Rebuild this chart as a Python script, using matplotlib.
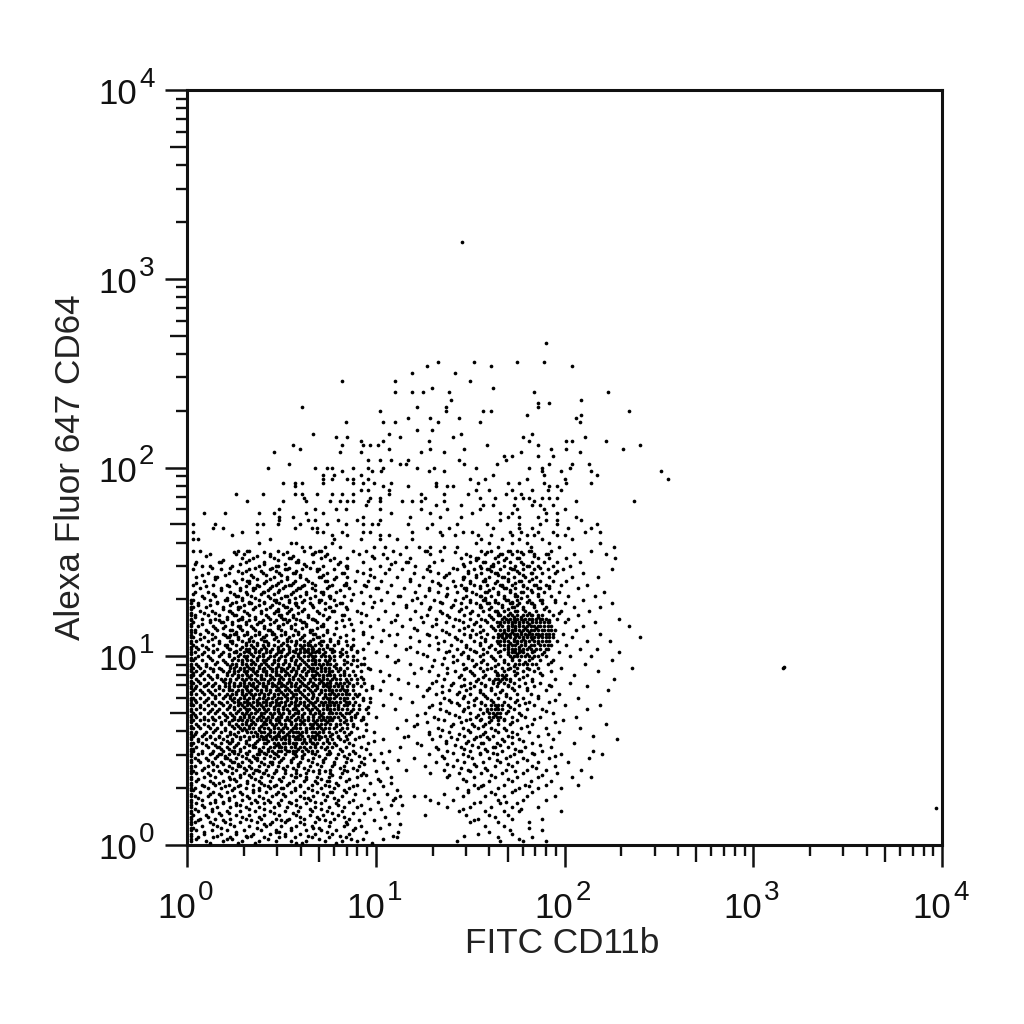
import matplotlib
matplotlib.use('Agg')
from matplotlib import pyplot as plt
from matplotlib.ticker import LogLocator, FixedLocator, NullFormatter

# dots, in hundredths of a decade: (log10 y * 100, [log10 x * 100, ...])
upper_rows = [
    (266, [190]), (256, [175, 189, 152, 133]), (254, [204, 127, 161]), (250, [142, 119]),
    (246, [82, 110, 150]), (242, [130, 162]), (240, [110, 119, 125, 139, 184, 223]),
    (236, [140, 209]), (234, [192, 186]), (232, [61, 122, 186, 137]),
    (230, [157, 161, 234, 102, 137]), (228, [180, 209]), (226, [117, 129, 144, 206]),
    (224, [84, 104, 110, 133, 155, 208]), (220, [130, 122]), (218, [67, 107, 145, 183]),
    (216, [79, 85, 113, 141, 178, 211]), (214, [92, 104, 128, 181, 201, 204, 222]),
    (212, [56, 82, 93, 97, 101, 159, 186, 240]), (210, [60, 107, 129, 147, 193, 201, 231]),
    (208, [46, 81, 92, 124, 136, 177, 208]), (206, [186, 194, 172, 168]),
    (204, [96, 102, 108, 117, 144, 169]), (202, [54, 113, 116, 147, 164, 204, 213, 192]),
    (200, [43, 68, 74, 77, 88, 96, 104, 122, 131, 153, 181, 188, 203]),
    (198, [82, 98, 103, 128, 136, 188, 198, 214, 251]), (196, [72, 78, 92, 162, 189, 217]),
    (194, [72, 77, 85, 88, 96, 150, 158, 180, 200, 255]),
    (192, [51, 57, 61, 72, 88, 93, 99, 108, 132, 154, 170, 176, 189, 201, 214]),
    (190, [57, 104, 117, 132, 138, 141, 192, 196]),
    (188, [92, 96, 107, 153, 160, 172, 183, 191, 198]),
    (186, [26, 40, 57, 61, 69, 77, 82, 88, 107, 124, 136, 149, 169, 177]),
    (184, [62, 97, 102, 126, 155, 163, 174, 178, 181, 188, 192, 196]),
    (182, [32, 51, 63, 76, 81, 85, 88, 96, 102, 114, 119, 124, 136, 184, 206, 237]),
    (180, [95, 132, 145, 157, 162, 173, 183, 187, 194]),
    (178, [49, 68, 79, 84, 102, 124, 138, 155, 175, 189, 200]),
    (176, [9, 20, 38, 46, 63, 72, 108, 129, 151, 166, 172, 190, 196]),
    (174, [49, 56, 93, 118, 134, 145, 170, 176, 186, 206]),
    (172, [49, 64, 68, 80, 90, 102, 166, 190, 196, 209]),
    (170, [3, 15, 37, 40, 48, 60, 74, 84, 93, 98, 101, 117, 130, 143, 159, 176, 187, 196, 217]),
    (168, [14, 19, 57, 66, 69, 127, 139, 162, 176, 183, 202, 214]),
    (166, [3, 29, 37, 69, 72, 82, 93, 97, 119, 134, 146, 151, 171, 177, 186, 194, 211, 219]),
    (164, [24, 77, 85, 102, 107, 135, 142, 154, 161, 172, 180, 184, 196, 200]),
    (162, [3, 6, 44, 78, 92, 102, 111, 119, 156, 167, 176, 188, 204]),
    (160, [38, 55, 58, 77, 153, 160, 172, 180, 192, 219]),
    (158, [61, 65, 73, 81, 99, 105, 116, 123, 129, 136, 143, 165, 182, 197, 226]),
]

middle_rows = [
    (156, [3, 7, 27, 32, 33, 48, 62, 70, 71, 88, 95, 109, 126, 127, 134, 156, 161, 170, 171, 175, 181, 182, 193, 214]),
    (154, [12, 26, 30, 44, 51, 66, 67, 74, 91, 104, 113, 129, 148, 158, 166, 167, 172, 178, 184, 190, 191, 205, 222]),
    (152, [29, 35, 46, 54, 55, 71, 78, 85, 99, 106, 118, 145, 153, 154, 163, 169, 175, 176, 186, 192, 201, 227]),
    (150, [5, 17, 18, 31, 41, 58, 59, 67, 81, 93, 110, 116, 117, 131, 150, 157, 158, 165, 171, 177, 183, 189, 196, 208]),
    (148, [8, 12, 24, 38, 47, 48, 63, 72, 84, 85, 102, 121, 128, 147, 155, 161, 162, 168, 174, 180, 181, 186, 194, 203]),
    (146, [3, 18, 33, 44, 52, 53, 61, 69, 70, 78, 97, 107, 114, 127, 143, 152, 159, 160, 166, 172, 173, 178, 184, 191, 199, 225]),
    (144, [11, 22, 29, 40, 49, 56, 57, 74, 82, 83, 93, 105, 120, 133, 139, 149, 156, 163, 164, 170, 176, 182, 183, 188, 195, 210]),
    (142, [5, 15, 16, 35, 46, 53, 60, 70, 71, 79, 85, 99, 111, 125, 136, 146, 147, 153, 160, 167, 168, 173, 179, 185, 192, 204, 218]),
    (140, [9, 25, 32, 33, 42, 50, 57, 64, 73, 74, 89, 96, 103, 118, 130, 141, 150, 157, 158, 164, 170, 176, 177, 181, 187, 194, 201]),
    (138, [3, 14, 21, 37, 47, 54, 55, 62, 68, 77, 83, 84, 94, 108, 123, 134, 145, 152, 159, 166, 167, 172, 178, 184, 185, 190, 198, 212]),
    (136, [7, 18, 28, 35, 36, 44, 51, 59, 60, 66, 74, 86, 100, 101, 115, 128, 138, 147, 148, 155, 162, 168, 169, 174, 180, 186, 187, 192, 207]),
    (134, [4, 11, 23, 31, 40, 41, 48, 56, 63, 71, 72, 79, 92, 106, 121, 133, 143, 151, 158, 159, 165, 171, 177, 178, 183, 189, 197, 221]),
    (132, [8, 15, 26, 27, 34, 43, 52, 53, 60, 68, 75, 76, 83, 97, 112, 113, 126, 137, 148, 155, 156, 161, 168, 174, 175, 180, 186, 193, 202, 216]),
    (130, [3, 12, 20, 21, 29, 38, 46, 47, 54, 62, 70, 71, 78, 87, 103, 119, 131, 142, 150, 157, 158, 163, 169, 170, 175, 181, 187, 188, 195, 210]),
    (128, [6, 16, 24, 33, 34, 41, 49, 57, 58, 65, 73, 81, 82, 93, 109, 124, 135, 145, 153, 159, 160, 165, 171, 172, 176, 182, 183, 188, 200, 225]),
    (126, [3, 10, 19, 27, 28, 36, 44, 52, 53, 59, 67, 75, 76, 84, 98, 116, 129, 140, 148, 155, 156, 161, 167, 172, 173, 178, 184, 190, 205, 219]),
    (124, [7, 13, 22, 23, 30, 39, 47, 48, 54, 61, 69, 77, 78, 90, 105, 121, 134, 144, 151, 157, 163, 164, 168, 174, 175, 179, 185, 192, 198, 213]),
    (122, [4, 11, 17, 25, 26, 33, 42, 49, 50, 56, 64, 72, 82, 83, 95, 111, 127, 138, 147, 154, 160, 165, 166, 170, 172, 175, 178, 180, 183, 186, 194, 207]),
    (120, [8, 15, 21, 28, 29, 36, 44, 51, 52, 58, 66, 67, 74, 86, 101, 118, 132, 142, 150, 156, 162, 167, 169, 171, 173, 175, 177, 179, 181, 183, 188, 196, 202, 229]),
    (118, [3, 12, 18, 19, 24, 31, 38, 39, 46, 53, 61, 62, 69, 79, 92, 108, 125, 137, 146, 153, 159, 164, 166, 168, 170, 172, 174, 176, 178, 180, 183, 185, 191, 200, 216]),
    (116, [6, 14, 20, 27, 28, 34, 41, 48, 49, 55, 63, 71, 72, 83, 97, 114, 130, 141, 149, 155, 161, 165, 167, 170, 172, 174, 176, 178, 180, 182, 184, 187, 193, 210, 234]),
    (114, [4, 10, 16, 23, 24, 29, 36, 43, 44, 50, 57, 65, 66, 74, 88, 104, 122, 135, 144, 151, 157, 163, 166, 168, 170, 172, 174, 176, 178, 180, 182, 184, 189, 195, 206]),
    (112, [7, 13, 19, 25, 26, 32, 38, 45, 46, 52, 59, 67, 68, 78, 93, 111, 127, 139, 147, 153, 159, 165, 167, 169, 171, 173, 175, 177, 179, 181, 183, 186, 192, 199, 219]),
    (110, [3, 9, 15, 21, 22, 27, 34, 40, 41, 47, 54, 61, 69, 70, 81, 98, 118, 132, 142, 150, 156, 162, 165, 167, 169, 171, 174, 176, 178, 180, 182, 184, 188, 194, 204, 240]),
    (108, [5, 11, 17, 23, 24, 29, 33, 35, 41, 42, 48, 53, 55, 62, 71, 72, 84, 103, 123, 136, 145, 152, 158, 164, 166, 168, 170, 173, 175, 177, 179, 181, 184, 190, 196, 212, 224]),
    (106, [3, 8, 14, 20, 21, 26, 31, 34, 37, 40, 43, 46, 50, 53, 57, 64, 65, 74, 88, 110, 128, 140, 148, 155, 161, 166, 168, 170, 172, 174, 177, 179, 182, 187, 193, 201]),
    (104, [6, 11, 16, 22, 23, 28, 31, 33, 36, 39, 42, 45, 48, 51, 54, 58, 66, 67, 77, 93, 116, 133, 143, 150, 157, 163, 168, 170, 172, 174, 176, 180, 185, 191, 208, 217]),
    (102, [4, 9, 14, 19, 25, 26, 30, 33, 36, 38, 42, 44, 48, 50, 54, 57, 60, 68, 81, 100, 122, 137, 146, 153, 159, 165, 170, 172, 174, 176, 178, 183, 189, 197, 229]),
    (100, [6, 11, 17, 22, 27, 30, 32, 35, 38, 40, 44, 46, 50, 52, 56, 59, 62, 71, 85, 106, 127, 141, 149, 155, 161, 166, 171, 173, 175, 179, 184, 190, 203, 214]),
    (98, [3, 8, 13, 19, 24, 27, 29, 32, 34, 37, 40, 42, 46, 48, 52, 55, 58, 61, 64, 73, 88, 112, 131, 143, 151, 157, 163, 168, 172, 176, 181, 187, 194, 225]),
    (96, [5, 10, 15, 21, 24, 26, 29, 31, 34, 36, 39, 42, 45, 48, 51, 54, 57, 60, 63, 66, 76, 92, 118, 135, 146, 153, 159, 165, 170, 174, 178, 183, 191, 211]),
    (94, [3, 7, 12, 17, 23, 25, 28, 30, 33, 35, 38, 41, 44, 47, 50, 53, 56, 59, 62, 65, 69, 79, 96, 124, 138, 148, 155, 161, 167, 171, 175, 180, 186, 198, 236, 316]),
    (92, [5, 9, 14, 19, 22, 25, 27, 30, 32, 35, 37, 40, 42, 45, 47, 50, 52, 55, 58, 61, 64, 71, 83, 102, 128, 142, 150, 157, 163, 168, 173, 178, 184, 193, 218]),
    (90, [3, 7, 11, 16, 21, 24, 27, 29, 32, 34, 37, 39, 42, 44, 47, 49, 52, 54, 57, 60, 63, 66, 74, 86, 107, 133, 145, 152, 158, 164, 165, 167, 169, 174, 180, 188, 205]),
    (88, [5, 9, 13, 18, 20, 23, 26, 29, 31, 34, 36, 39, 41, 44, 46, 49, 51, 54, 56, 59, 62, 65, 68, 77, 90, 112, 136, 147, 154, 160, 163, 165, 167, 169, 171, 176, 183, 195, 226]),
    (86, [3, 7, 11, 15, 20, 22, 25, 28, 30, 33, 35, 38, 40, 43, 45, 48, 50, 53, 55, 58, 61, 64, 67, 70, 79, 94, 117, 130, 141, 150, 156, 162, 165, 168, 173, 179, 187, 203]),
    (84, [5, 9, 13, 17, 20, 22, 25, 27, 30, 32, 35, 37, 40, 42, 45, 47, 50, 52, 55, 57, 60, 63, 66, 69, 72, 82, 98, 122, 135, 145, 152, 158, 164, 170, 176, 184, 193, 212]),
    (82, [3, 7, 11, 15, 19, 22, 24, 27, 29, 32, 34, 37, 39, 42, 44, 47, 49, 52, 54, 57, 59, 62, 65, 68, 71, 75, 85, 102, 127, 139, 148, 155, 161, 167, 173, 180, 190, 223]),
    (80, [5, 9, 13, 17, 21, 24, 26, 29, 31, 34, 36, 38, 41, 43, 46, 48, 51, 53, 56, 58, 61, 64, 67, 70, 73, 78, 89, 108, 132, 143, 150, 157, 163, 169, 175, 182, 197]),
    (78, [3, 7, 11, 15, 19, 23, 25, 28, 30, 33, 35, 38, 40, 43, 45, 48, 50, 53, 55, 58, 60, 63, 66, 69, 72, 81, 93, 113, 136, 146, 153, 159, 165, 171, 178, 186, 207]),
    (76, [5, 9, 13, 17, 21, 25, 27, 30, 32, 35, 37, 40, 42, 45, 47, 50, 52, 55, 57, 60, 62, 65, 68, 71, 75, 84, 97, 119, 140, 149, 156, 162, 168, 174, 181, 192]),
    (74, [3, 7, 11, 15, 19, 23, 27, 29, 32, 34, 37, 39, 42, 44, 47, 49, 52, 54, 57, 59, 62, 64, 67, 70, 78, 88, 104, 130, 144, 152, 158, 161, 163, 165, 167, 170, 176, 184, 200, 219]),
    (72, [5, 9, 13, 17, 21, 25, 28, 31, 33, 36, 38, 41, 43, 46, 48, 51, 53, 56, 58, 61, 64, 66, 69, 72, 80, 91, 110, 134, 147, 155, 159, 161, 163, 165, 167, 173, 180, 188, 212]),
]

lower_rows = [
    (70, [3, 7, 11, 15, 19, 23, 26, 29, 31, 34, 36, 39, 41, 44, 46, 49, 51, 54, 57, 59, 62, 65, 68, 75, 84, 96, 126, 139, 150, 157, 160, 162, 164, 166, 169, 176, 194]),
    (68, [5, 9, 13, 17, 21, 25, 28, 30, 33, 35, 38, 40, 43, 45, 48, 50, 53, 55, 59, 61, 64, 67, 70, 78, 87, 100, 131, 144, 153, 160, 162, 164, 166, 172, 179, 187, 206]),
    (66, [3, 7, 11, 15, 20, 24, 27, 29, 32, 34, 37, 39, 42, 44, 47, 49, 52, 54, 57, 60, 62, 67, 73, 81, 92, 116, 136, 148, 155, 161, 165, 168, 175, 199]),
    (64, [5, 9, 14, 18, 22, 26, 29, 31, 34, 36, 40, 42, 45, 47, 50, 52, 55, 58, 60, 65, 71, 76, 85, 95, 122, 141, 151, 158, 165, 171, 183, 222]),
    (62, [3, 7, 12, 16, 20, 25, 28, 30, 33, 35, 38, 41, 43, 46, 48, 51, 53, 56, 58, 63, 69, 75, 82, 90, 111, 133, 146, 154, 161, 168, 177, 190, 208]),
    (60, [5, 10, 14, 18, 23, 27, 32, 34, 36, 39, 41, 44, 46, 49, 51, 54, 56, 61, 66, 72, 79, 87, 99, 128, 139, 150, 158, 165, 172, 181, 197]),
    (58, [3, 8, 12, 17, 21, 26, 30, 35, 37, 39, 42, 44, 47, 49, 52, 54, 59, 64, 70, 76, 84, 93, 117, 134, 147, 155, 162, 170, 186, 215]),
    (56, [6, 10, 15, 19, 24, 28, 33, 38, 40, 42, 45, 47, 50, 52, 57, 62, 68, 74, 81, 89, 104, 130, 143, 152, 160, 167, 176, 194, 228]),
    (54, [3, 8, 13, 18, 22, 23, 27, 31, 36, 41, 42, 46, 51, 52, 56, 61, 66, 67, 72, 78, 86, 96, 122, 137, 148, 156, 157, 164, 172, 183, 205]),
    (52, [5, 11, 16, 17, 21, 25, 30, 35, 36, 40, 44, 49, 50, 55, 60, 65, 71, 77, 84, 92, 113, 132, 145, 154, 162, 163, 170, 179, 193]),
    (50, [3, 8, 14, 19, 24, 25, 28, 33, 38, 39, 43, 48, 53, 54, 58, 64, 69, 75, 82, 88, 107, 138, 150, 159, 167, 176, 177, 188, 215]),
    (48, [6, 12, 17, 18, 22, 27, 32, 37, 38, 42, 47, 52, 57, 62, 68, 74, 75, 80, 86, 97, 128, 146, 155, 164, 173, 184, 198, 220]),
    (46, [4, 10, 15, 20, 21, 26, 31, 36, 37, 41, 46, 51, 56, 61, 67, 73, 79, 85, 94, 120, 136, 151, 160, 169, 178, 192, 213]),
    (44, [7, 13, 18, 24, 25, 29, 34, 39, 44, 45, 49, 55, 60, 66, 72, 78, 84, 92, 104, 132, 147, 157, 166, 175, 186, 202]),
    (42, [4, 11, 16, 22, 27, 28, 33, 38, 43, 48, 53, 59, 65, 71, 77, 83, 91, 126, 141, 153, 163, 172, 183, 195]),
    (40, [8, 14, 20, 26, 31, 36, 37, 42, 47, 52, 58, 64, 70, 76, 83, 90, 116, 136, 149, 159, 169, 180, 190, 209]),
    (38, [5, 11, 18, 24, 30, 35, 40, 41, 46, 52, 58, 63, 70, 76, 82, 93, 129, 144, 156, 167, 178, 196]),
    (36, [9, 15, 22, 28, 34, 39, 45, 51, 57, 58, 63, 69, 75, 81, 90, 108, 138, 152, 163, 175, 186, 204, 214]),
    (34, [5, 12, 19, 26, 32, 38, 44, 50, 56, 62, 68, 74, 75, 84, 102, 148, 160, 172, 182, 193]),
    (32, [8, 15, 22, 28, 35, 41, 47, 53, 60, 66, 73, 80, 90, 152, 157, 168, 179, 190, 207]),
    (30, [4, 11, 18, 25, 31, 38, 44, 50, 51, 57, 64, 71, 78, 86, 143, 154, 165, 176, 186, 198]),
    (28, [7, 14, 21, 28, 35, 42, 48, 55, 62, 69, 76, 77, 84, 149, 161, 172, 183]),
    (26, [4, 11, 18, 25, 32, 38, 45, 52, 60, 67, 74, 82, 113, 120, 126, 146, 158, 168, 180, 195]),
    (24, [8, 15, 22, 29, 36, 43, 50, 58, 65, 73, 80, 88, 109, 129, 141, 165, 178, 190]),
    (22, [5, 12, 19, 26, 34, 41, 48, 55, 63, 71, 79, 133, 152, 166, 175]),
    (20, [9, 16, 23, 31, 38, 46, 53, 60, 68, 75, 83, 90, 138, 150, 161, 172, 186]),
    (18, [6, 13, 21, 28, 36, 44, 52, 59, 66, 74, 82, 144, 158, 168, 176, 198]),
    (16, [3, 10, 18, 26, 33, 41, 49, 58, 65, 72, 80, 126, 148, 160, 170]),
    (14, [7, 15, 23, 31, 39, 47, 54, 62, 70, 78, 86, 154, 172, 188]),
    (12, [4, 12, 20, 28, 37, 45, 52, 60, 68, 76, 84, 150, 165, 181]),
    (10, [8, 16, 25, 33, 42, 50, 58, 66, 75, 83, 92, 158, 168]),
    (8, [5, 13, 21, 30, 39, 47, 55, 63, 71, 79, 88, 171, 188]),
    (6, [9, 18, 26, 35, 44, 52, 60, 68, 77, 86, 154, 172]),
    (4, [6, 14, 23, 32, 41, 49, 57, 66, 75, 84, 111, 165, 183]),
    (2, [10, 19, 29, 38, 47, 55, 63, 73, 82, 90, 143, 166, 178, 190]),
]

# dots between the rows above, where the cloud is thickest
fill_rows = [
    (1, [12, 27, 36, 58, 61, 79, 98]), (3, [5, 21, 24, 43, 70, 87, 93, 104, 176]),
    (5, [16, 31, 34, 52, 64, 81, 109, 147]), (7, [9, 26, 47, 49, 74, 95, 112, 160]),
    (9, [3, 18, 37, 55, 67, 70, 89, 102, 181]), (11, [14, 23, 41, 44, 62, 85, 107, 113]),
    (13, [6, 19, 34, 50, 53, 73, 91, 99, 152]), (15, [11, 29, 38, 60, 69, 83, 105, 163]),
    (17, [17, 22, 46, 56, 77, 88, 94, 112]), (19, [4, 13, 33, 41, 65, 71, 97, 103, 146, 177]),
    (21, [8, 26, 28, 49, 58, 80, 92, 108, 114]), (23, [15, 19, 37, 44, 54, 68, 86, 101, 155, 169]),
    (25, [6, 22, 33, 40, 62, 64, 78, 96, 110]), (27, [12, 17, 29, 47, 51, 72, 89, 99, 106, 136, 163]),
    (29, [3, 24, 35, 38, 57, 66, 83, 94, 111, 149, 174]), (31, [9, 20, 27, 43, 46, 60, 75, 88, 104, 156, 181]),
    (33, [14, 17, 32, 39, 54, 69, 79, 97, 108]), (35, [6, 23, 25, 36, 49, 63, 71, 86, 101, 146, 170]),
    (37, [12, 28, 33, 43, 55, 60, 77, 92, 95, 139, 161, 188]), (39, [3, 17, 21, 38, 47, 67, 73, 85, 100, 150, 174]),
    (41, [9, 24, 30, 34, 51, 56, 62, 81, 88, 106, 145, 158, 185]), (43, [14, 19, 27, 41, 45, 59, 69, 78, 94, 138, 152, 170]),
    (45, [6, 11, 23, 33, 37, 50, 55, 64, 72, 87, 99, 112, 143, 164, 180]),
    (47, [16, 20, 29, 35, 44, 48, 58, 61, 70, 83, 91, 135, 149, 171, 195]),
    (49, [8, 13, 25, 31, 41, 46, 56, 66, 76, 89, 103, 141, 155, 162, 183]),
    (51, [3, 18, 22, 28, 38, 43, 52, 59, 63, 73, 81, 95, 133, 147, 158, 174]),
    (53, [10, 15, 26, 33, 35, 47, 49, 57, 68, 79, 88, 124, 142, 151, 166, 187]),
    (55, [6, 21, 24, 31, 37, 43, 54, 62, 65, 74, 83, 99, 137, 149, 168, 178]),
    (57, [12, 17, 28, 33, 40, 46, 51, 58, 67, 71, 80, 91, 115, 140, 153, 159, 172]),
    (59, [4, 9, 23, 25, 37, 43, 48, 53, 60, 69, 77, 86, 128, 144, 157, 175, 191]),
    (61, [15, 20, 29, 31, 38, 44, 50, 55, 63, 72, 81, 95, 135, 149, 163, 169]),
    (63, [6, 11, 24, 27, 33, 39, 46, 52, 57, 66, 70, 79, 88, 120, 140, 152, 157, 180]),
    (65, [18, 22, 31, 35, 41, 44, 49, 55, 61, 68, 74, 83, 127, 145, 160, 172, 195]),
    (67, [9, 14, 25, 28, 37, 42, 47, 53, 58, 64, 72, 77, 93, 133, 150, 156, 168, 184]),
    (69, [4, 20, 24, 30, 33, 39, 45, 50, 56, 61, 67, 71, 82, 89, 122, 142, 154, 163, 177]),
    (71, [12, 16, 27, 32, 37, 42, 48, 54, 59, 65, 70, 76, 87, 137, 146, 159, 170, 190]),
    (73, [7, 22, 25, 30, 35, 40, 46, 51, 57, 63, 68, 74, 80, 96, 128, 149, 164, 171]),
    (75, [13, 18, 28, 33, 38, 44, 49, 55, 60, 66, 72, 78, 86, 134, 143, 156, 179]),
    (77, [4, 10, 24, 27, 32, 37, 42, 47, 53, 58, 64, 69, 75, 83, 93, 139, 152, 161, 175, 195]),
    (79, [15, 20, 23, 30, 35, 41, 46, 52, 56, 62, 67, 73, 79, 90, 125, 147, 158, 169, 186]),
    (81, [8, 12, 26, 29, 33, 39, 44, 50, 55, 60, 66, 71, 77, 84, 135, 144, 155, 166]),
    (83, [4, 17, 22, 31, 36, 42, 48, 53, 59, 64, 69, 75, 82, 98, 128, 150, 161, 172, 180]),
    (85, [10, 14, 25, 28, 34, 40, 46, 51, 57, 62, 68, 73, 80, 88, 140, 147, 158, 170, 192]),
    (87, [6, 19, 23, 30, 37, 43, 49, 54, 60, 65, 71, 76, 85, 104, 132, 153, 162, 166, 171, 183]),
    (89, [12, 16, 27, 33, 39, 45, 50, 56, 61, 67, 72, 78, 92, 144, 157, 168, 178]),
    (91, [3, 8, 21, 25, 31, 36, 42, 47, 53, 58, 63, 69, 75, 83, 120, 138, 151, 164, 175, 187]),
    (93, [14, 18, 28, 34, 40, 45, 51, 56, 62, 66, 73, 81, 97, 147, 159, 170, 181]),
    (95, [6, 10, 23, 26, 32, 38, 43, 48, 54, 59, 64, 71, 78, 90, 130, 152, 163, 173]),
    (97, [16, 20, 29, 35, 41, 46, 52, 57, 62, 68, 74, 85, 110, 141, 156, 168, 179, 193]),
    (99, [4, 12, 25, 31, 37, 43, 49, 55, 60, 67, 76, 94, 136, 149, 162, 172, 183]),
    (101, [8, 18, 22, 28, 34, 40, 47, 53, 59, 65, 72, 82, 125, 145, 157, 170, 175, 180, 188]),
    (103, [14, 26, 32, 38, 44, 50, 56, 63, 69, 78, 90, 139, 152, 166, 173, 177, 184]),
    (105, [5, 10, 21, 29, 35, 41, 48, 54, 61, 66, 74, 87, 118, 148, 160, 170, 176, 181]),
    (107, [17, 24, 31, 37, 43, 51, 58, 64, 70, 80, 96, 133, 155, 165, 171, 175, 179, 186]),
    (109, [7, 13, 27, 33, 39, 46, 53, 60, 67, 76, 88, 143, 158, 168, 173, 178, 183]),
    (111, [20, 23, 30, 36, 42, 50, 56, 62, 72, 84, 107, 128, 150, 166, 170, 175, 180, 187]),
    (113, [4, 11, 26, 32, 38, 45, 52, 59, 65, 74, 93, 137, 155, 168, 172, 177, 181]),
    (115, [15, 19, 28, 35, 41, 48, 55, 61, 69, 79, 120, 147, 162, 170, 174, 179, 185]),
    (117, [8, 24, 31, 37, 44, 51, 57, 63, 72, 87, 132, 152, 166, 172, 176, 181]),
    (119, [12, 17, 27, 33, 40, 47, 54, 60, 68, 82, 110, 144, 158, 170, 174, 178, 183, 192]),
    (121, [4, 21, 29, 36, 43, 50, 56, 64, 75, 124, 139, 161, 168, 173, 177, 186]),
    (123, [9, 15, 24, 32, 39, 46, 53, 59, 70, 92, 135, 150, 165, 171, 181, 197]),
    (125, [19, 27, 35, 42, 48, 55, 62, 73, 85, 128, 145, 160, 170, 178, 189]),
    (127, [6, 12, 23, 30, 38, 45, 51, 58, 66, 79, 116, 141, 155, 167, 175, 184]),
    (129, [16, 26, 33, 41, 47, 54, 61, 70, 99, 134, 150, 163, 172, 180, 195]),
    (131, [9, 21, 29, 36, 44, 50, 57, 65, 76, 122, 146, 158, 168, 177]),
    (133, [3, 14, 25, 32, 39, 46, 55, 63, 72, 88, 138, 153, 165, 174, 186]),
    (135, [18, 28, 35, 43, 49, 58, 68, 81, 128, 148, 160, 171, 182]),
    (137, [10, 22, 31, 38, 45, 52, 61, 75, 95, 142, 155, 167, 178, 192]),
    (139, [5, 26, 33, 41, 48, 56, 66, 84, 133, 150, 163, 174]),
    (141, [15, 29, 37, 44, 53, 63, 78, 118, 146, 158, 170, 183]),
    (143, [8, 20, 34, 42, 50, 60, 72, 97, 137, 153, 165, 178]),
    (145, [27, 31, 39, 47, 58, 69, 90, 129, 149, 161, 175, 196]),
    (147, [13, 23, 36, 45, 54, 65, 85, 141, 156, 171, 187]),
    (149, [4, 28, 41, 52, 62, 80, 108, 146, 162, 178]),
    (151, [19, 33, 48, 59, 76, 135, 153, 168]),
    (153, [10, 37, 44, 56, 73, 98, 150, 165, 184]),
    (155, [25, 41, 53, 68, 142, 159, 177]),
]

# right hand side of the big blob, it reaches further than the rows above
left_blob_rows = [
    (108, [58, 65, 76, 80]), (106, [60, 62, 68, 71, 78, 85]), (104, [60, 62, 64, 70, 72, 76, 82, 87]),
    (102, [62, 64, 66, 70, 73, 77, 84, 90]), (100, [64, 66, 68, 73, 75, 78, 81, 88]),
    (98, [66, 68, 70, 75, 78, 83, 90]), (96, [68, 70, 72, 74, 79, 83, 87, 94]),
    (94, [67, 71, 73, 75, 81, 85]), (92, [66, 68, 73, 75, 77, 80, 88, 92]),
    (90, [68, 70, 72, 76, 78, 81, 83, 89]), (88, [70, 72, 74, 79, 81, 84, 87, 93]),
    (86, [72, 74, 76, 81, 83, 86, 90]), (84, [74, 76, 78, 80, 85, 88, 92]),
    (82, [73, 77, 79, 81, 83, 88, 95]), (80, [75, 76, 80, 82, 84, 86, 91]),
    (78, [74, 76, 78, 83, 85, 88, 97]), (76, [73, 77, 79, 81, 86, 89]),
    (74, [72, 74, 76, 80, 83, 85, 91]), (72, [74, 76, 78, 82, 85, 88, 95]),
    (70, [70, 72, 77, 79, 81, 86, 90]), (68, [72, 74, 76, 80, 83, 89, 93]),
    (66, [64, 69, 71, 75, 77, 84, 87]), (64, [62, 67, 69, 73, 79, 81, 88]),
    (62, [60, 65, 67, 71, 73, 78, 85]), (60, [58, 59, 63, 68, 70, 75, 83]),
    (58, [56, 61, 66, 68, 73, 80]), (56, [54, 59, 60, 65, 70, 77, 85]),
    (54, [48, 54, 58, 63, 69, 75]), (52, [46, 52, 57, 62, 68, 74]), (50, [45, 50, 56, 61, 66]),
]

right_blob_rows = [
    (122, [182, 188]), (120, [185, 187, 190]), (118, [187, 189, 192]), (116, [186, 189, 191]),
    (114, [186, 188, 191, 193]), (112, [185, 188, 190, 194]), (110, [186, 190, 192]),
    (108, [186, 188, 192]), (106, [184, 189, 191]), (104, [178, 182, 187, 190]),
    (100, [177, 181, 186]), (96, [176, 180, 185]),
]

# stack of off-scale events next to the left axis, log10 y * 100
left_edge_levels = [2, 3, 5, 6, 8, 9, 11, 12, 14, 15, 17, 18, 20, 21, 23, 24, 26, 27, 29, 30,
                    32, 33, 35, 36, 38, 39, 41, 42, 44, 45, 47, 48, 50, 51, 53, 54, 56, 57, 59,
                    60, 62, 63, 65, 66, 68, 69, 71, 72, 74, 75, 77, 78, 80, 81, 83, 84, 86, 87,
                    89, 90, 92, 93, 95, 96, 98, 99, 101, 102, 104, 105, 107, 108, 110, 111, 113,
                    114, 116, 117, 119, 120, 122, 123, 125, 126, 128, 130]

far_x = [145.5, 316.4, 397.0]
far_y = [319.6, 94.2, 19.6]

tick_values = [1, 10, 100, 1000, 10000]
tick_base = '10'
tick_exponents = ['0', '1', '2', '3', '4']

plt.rcParams['font.family'] = ['Liberation Sans', 'DejaVu Sans']

xs = []
ys = []
for level, row in upper_rows + middle_rows + lower_rows + fill_rows + left_blob_rows + right_blob_rows:
    for v in row:
        xs.append(10 ** (v / 100))
        ys.append(10 ** (level / 100))
for level in left_edge_levels:
    xs.append(10 ** 0.02)
    ys.append(10 ** (level / 100))
for a, b in zip(far_x, far_y):
    xs.append(10 ** (a / 100))
    ys.append(10 ** (b / 100))

fig = plt.figure(figsize=(10.24, 10.24), dpi=100)
ax = fig.add_axes([187 / 1024, 179 / 1024, 755 / 1024, 755 / 1024])
ax.scatter(xs, ys, s=7, c='black', marker='o', linewidths=0, clip_on=False, zorder=3)

ax.set_xscale('log')
ax.set_yscale('log')
ax.set_xlim(1, 10000)
ax.set_ylim(1, 10000)

for axis in (ax.xaxis, ax.yaxis):
    axis.set_major_locator(FixedLocator(tick_values))
    axis.set_minor_locator(LogLocator(base=10, subs=(2, 3, 4, 5, 6, 7, 8, 9), numticks=50))
    axis.set_major_formatter(NullFormatter())
    axis.set_minor_formatter(NullFormatter())

ax.tick_params(which='major', length=15.5, width=1.8, color='#111111')
ax.tick_params(which='minor', length=8, width=1.7, color='#111111')

# the 5 of every decade is drawn longer
for axis in (ax.xaxis, ax.yaxis):
    for tick, loc in zip(axis.get_minor_ticks(), axis.get_minorticklocs()):
        if str(round(loc)).startswith('5'):
            tick.tick1line.set_markersize(12)

# tick labels: a big 10 and a raised exponent that is bigger than mathtext would make it
for val, exp in zip(tick_values, tick_exponents):
    ax.annotate(tick_base, (val, 0), xycoords=ax.get_xaxis_transform(), xytext=(9, -73),
                textcoords='offset pixels', ha='right', va='baseline', fontsize=25, color='#111111')
    ax.annotate(exp, (val, 0), xycoords=ax.get_xaxis_transform(), xytext=(11, -55),
                textcoords='offset pixels', ha='left', va='baseline', fontsize=20, color='#111111')
    ax.annotate(tick_base, (0, val), xycoords=ax.get_yaxis_transform(), xytext=(-50, -14),
                textcoords='offset pixels', ha='right', va='baseline', fontsize=25, color='#111111')
    ax.annotate(exp, (0, val), xycoords=ax.get_yaxis_transform(), xytext=(-48, 3),
                textcoords='offset pixels', ha='left', va='baseline', fontsize=20, color='#111111')

for spine in ax.spines.values():
    spine.set_linewidth(2.2)
    spine.set_color('#111111')

ax.set_xlabel('FITC CD11b', fontsize=25.3, color='#222222')
ax.set_ylabel('Alexa Fluor 647 CD64', fontsize=25.3, color='#222222')
ax.xaxis.set_label_coords(0.4975, -0.108)
ax.yaxis.set_label_coords(-0.132, 0.5)

fig.savefig('out.png', dpi=100)
